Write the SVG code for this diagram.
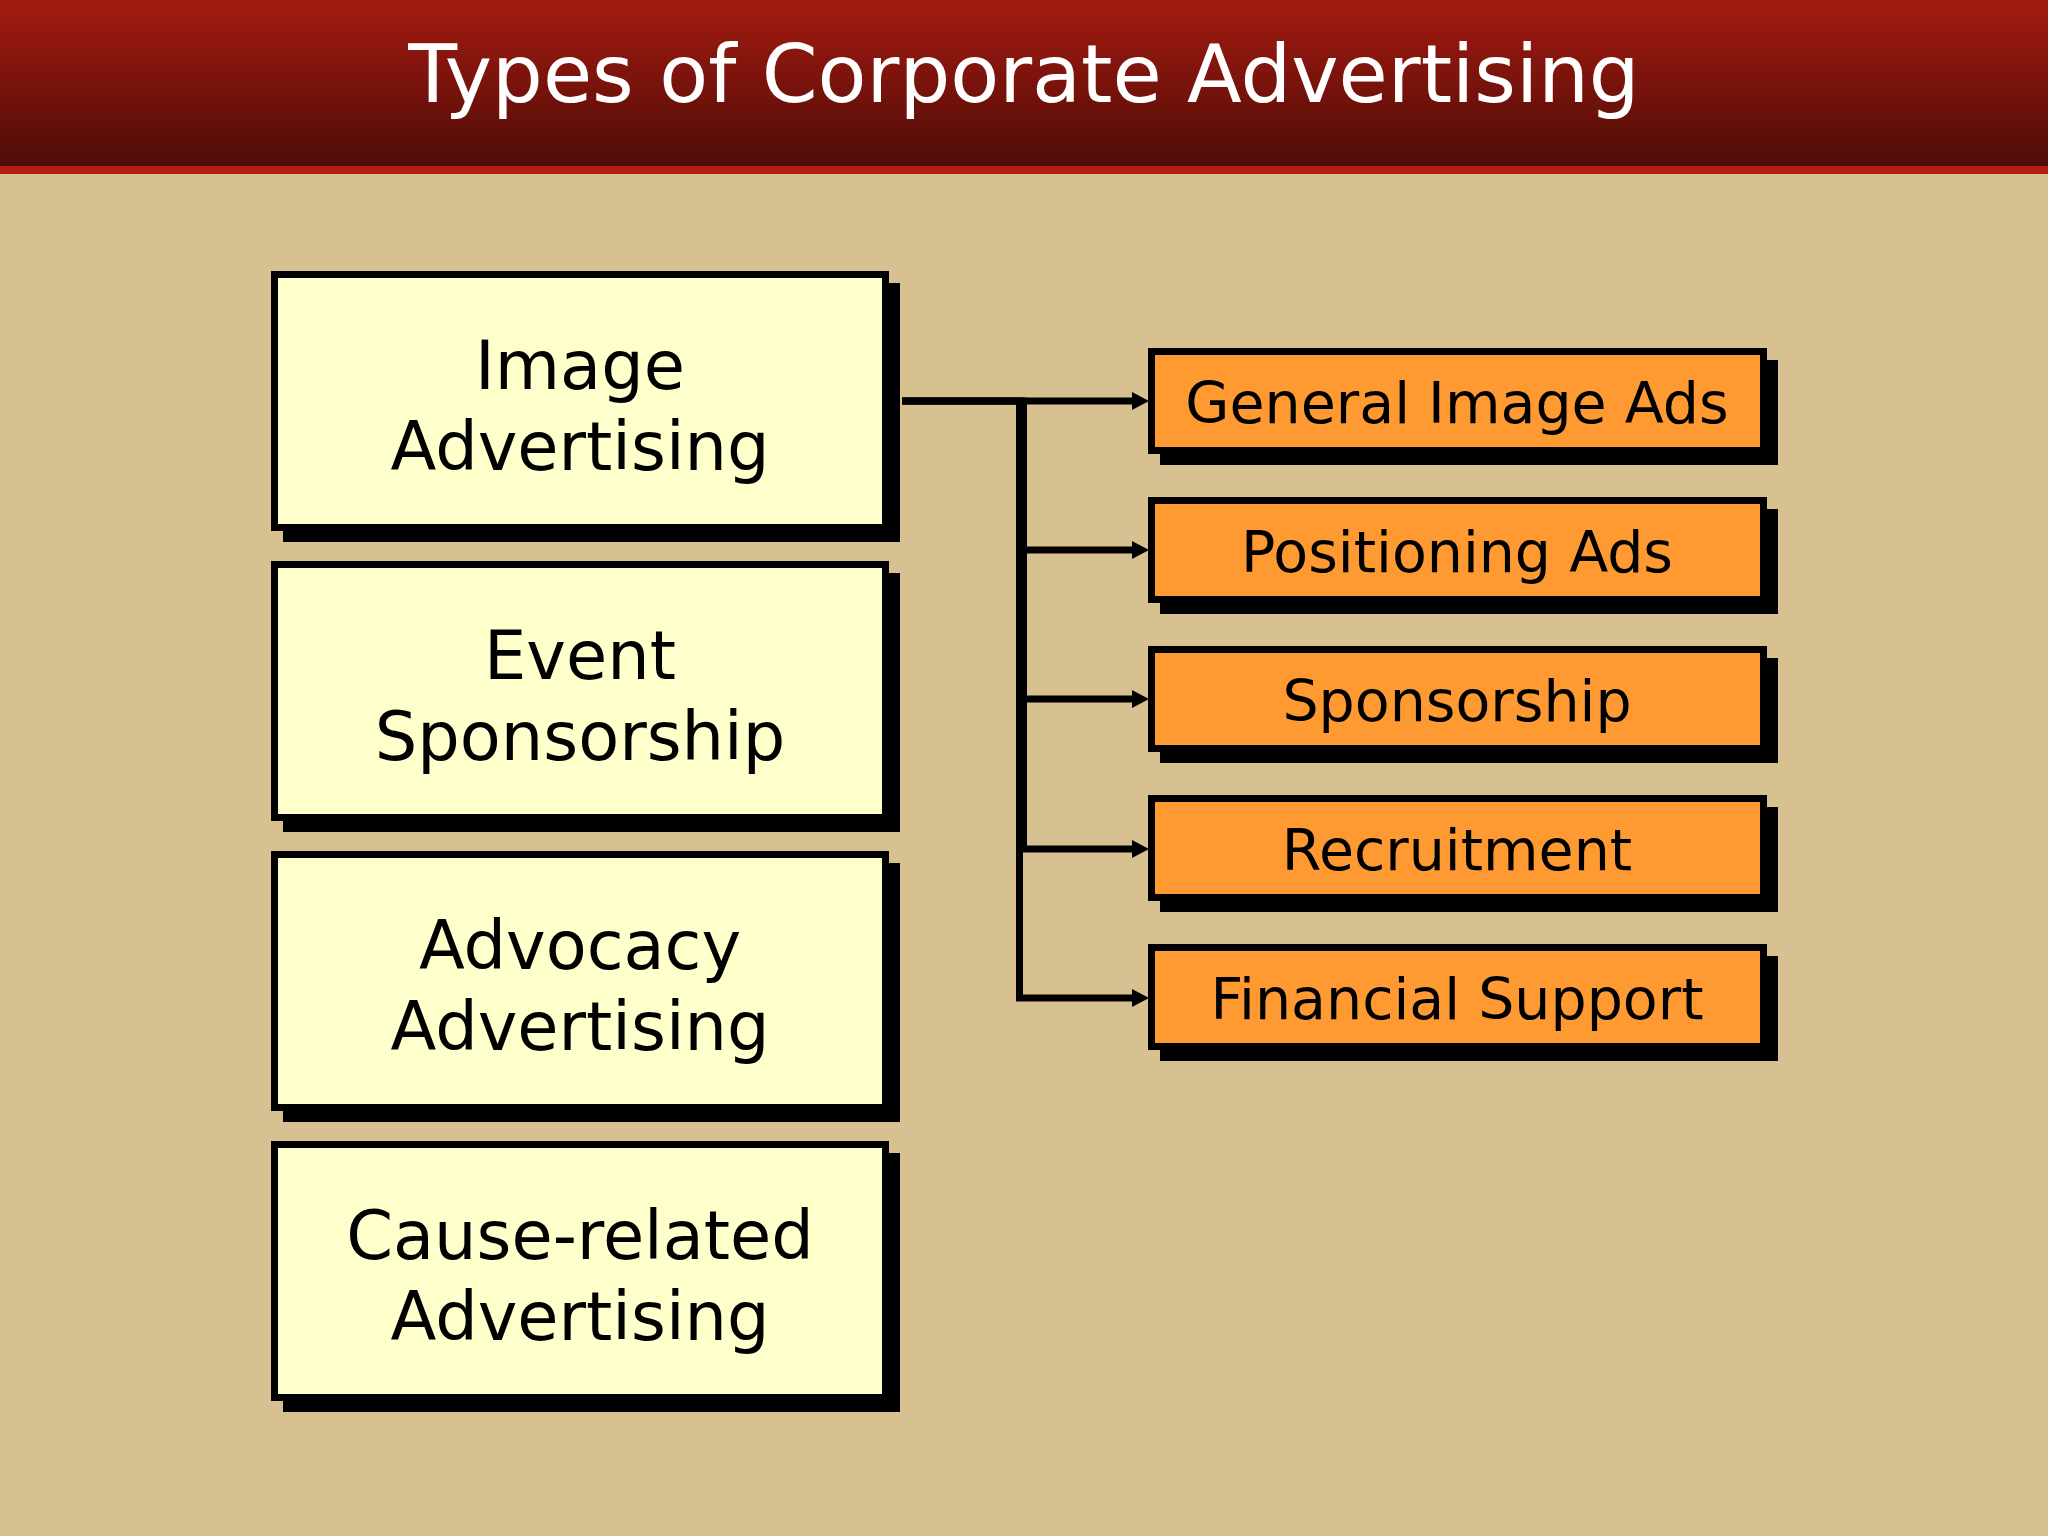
<svg xmlns="http://www.w3.org/2000/svg" width="2048" height="1536" viewBox="0 0 2048 1536">
  <defs>
    <linearGradient id="hdr" x1="0" y1="0" x2="0" y2="1">
      <stop offset="0" stop-color="#A41B11"/>
      <stop offset="1" stop-color="#4E0C07"/>
    </linearGradient>
    <marker id="arr" markerUnits="userSpaceOnUse" markerWidth="18" markerHeight="18" refX="1" refY="9" orient="auto">
      <polygon points="0,0 17,9 0,18" fill="#000"/>
    </marker>
    <style>
      .shadow { fill: #000; }
      .lbox { fill: #FFFFCC; stroke: #000; stroke-width: 7; }
      .rbox { fill: #FF9A33; stroke: #000; stroke-width: 7; }
      .ltxt { font-family: "DejaVu Sans", Verdana, sans-serif; font-size: 67px; fill: #000; text-anchor: middle; }
      .rtxt { font-family: "DejaVu Sans", Verdana, sans-serif; font-size: 57px; fill: #000; text-anchor: middle; }
      .conn { fill: none; stroke: #000; stroke-width: 7; stroke-linejoin: miter; marker-end: url(#arr); }
    </style>
  </defs>

  <rect x="0" y="0" width="2048" height="1536" fill="#D8C191"/>
  <rect x="0" y="0" width="2048" height="166" fill="url(#hdr)"/>
  <rect x="0" y="166" width="2048" height="8" fill="#B01F12"/>
  <text x="1024" y="102" font-family="DejaVu Sans, Verdana, sans-serif" font-size="80" fill="#FFFFFF" text-anchor="middle">Types of Corporate Advertising</text>

  <g id="connectors">
    <path class="conn" d="M902 401 H1019.5 V998 H1133"/>
    <path class="conn" d="M902 401 H1023.5 V849 H1133"/>
    <path class="conn" d="M1023.5 699 H1133"/>
    <path class="conn" d="M1023.5 550 H1133"/>
    <path class="conn" d="M902 401 H1133"/>
  </g>

  <g id="image-advertising">
    <rect class="shadow" x="283" y="283" width="617" height="259"/>
    <rect class="lbox" x="274.5" y="274.5" width="611" height="253"/>
    <text class="ltxt" x="580" y="389">Image</text>
    <text class="ltxt" x="580" y="470">Advertising</text>
  </g>
  <g id="event-sponsorship">
    <rect class="shadow" x="283" y="573" width="617" height="259"/>
    <rect class="lbox" x="274.5" y="564.5" width="611" height="253"/>
    <text class="ltxt" x="580" y="679">Event</text>
    <text class="ltxt" x="580" y="760">Sponsorship</text>
  </g>
  <g id="advocacy-advertising">
    <rect class="shadow" x="283" y="863" width="617" height="259"/>
    <rect class="lbox" x="274.5" y="854.5" width="611" height="253"/>
    <text class="ltxt" x="580" y="969">Advocacy</text>
    <text class="ltxt" x="580" y="1050">Advertising</text>
  </g>
  <g id="cause-related-advertising">
    <rect class="shadow" x="283" y="1153" width="617" height="259"/>
    <rect class="lbox" x="274.5" y="1144.5" width="611" height="253"/>
    <text class="ltxt" x="580" y="1259">Cause-related</text>
    <text class="ltxt" x="580" y="1340">Advertising</text>
  </g>

  <g id="general-image-ads">
    <rect class="shadow" x="1160" y="360" width="618" height="105"/>
    <rect class="rbox" x="1151.5" y="351.5" width="612" height="99"/>
    <text class="rtxt" x="1457" y="423">General Image Ads</text>
  </g>
  <g id="positioning-ads">
    <rect class="shadow" x="1160" y="509" width="618" height="105"/>
    <rect class="rbox" x="1151.5" y="500.5" width="612" height="99"/>
    <text class="rtxt" x="1457" y="572">Positioning Ads</text>
  </g>
  <g id="sponsorship">
    <rect class="shadow" x="1160" y="658" width="618" height="105"/>
    <rect class="rbox" x="1151.5" y="649.5" width="612" height="99"/>
    <text class="rtxt" x="1457" y="721">Sponsorship</text>
  </g>
  <g id="recruitment">
    <rect class="shadow" x="1160" y="807" width="618" height="105"/>
    <rect class="rbox" x="1151.5" y="798.5" width="612" height="99"/>
    <text class="rtxt" x="1457" y="870">Recruitment</text>
  </g>
  <g id="financial-support">
    <rect class="shadow" x="1160" y="956" width="618" height="105"/>
    <rect class="rbox" x="1151.5" y="947.5" width="612" height="99"/>
    <text class="rtxt" x="1457" y="1019">Financial Support</text>
  </g>
</svg>
